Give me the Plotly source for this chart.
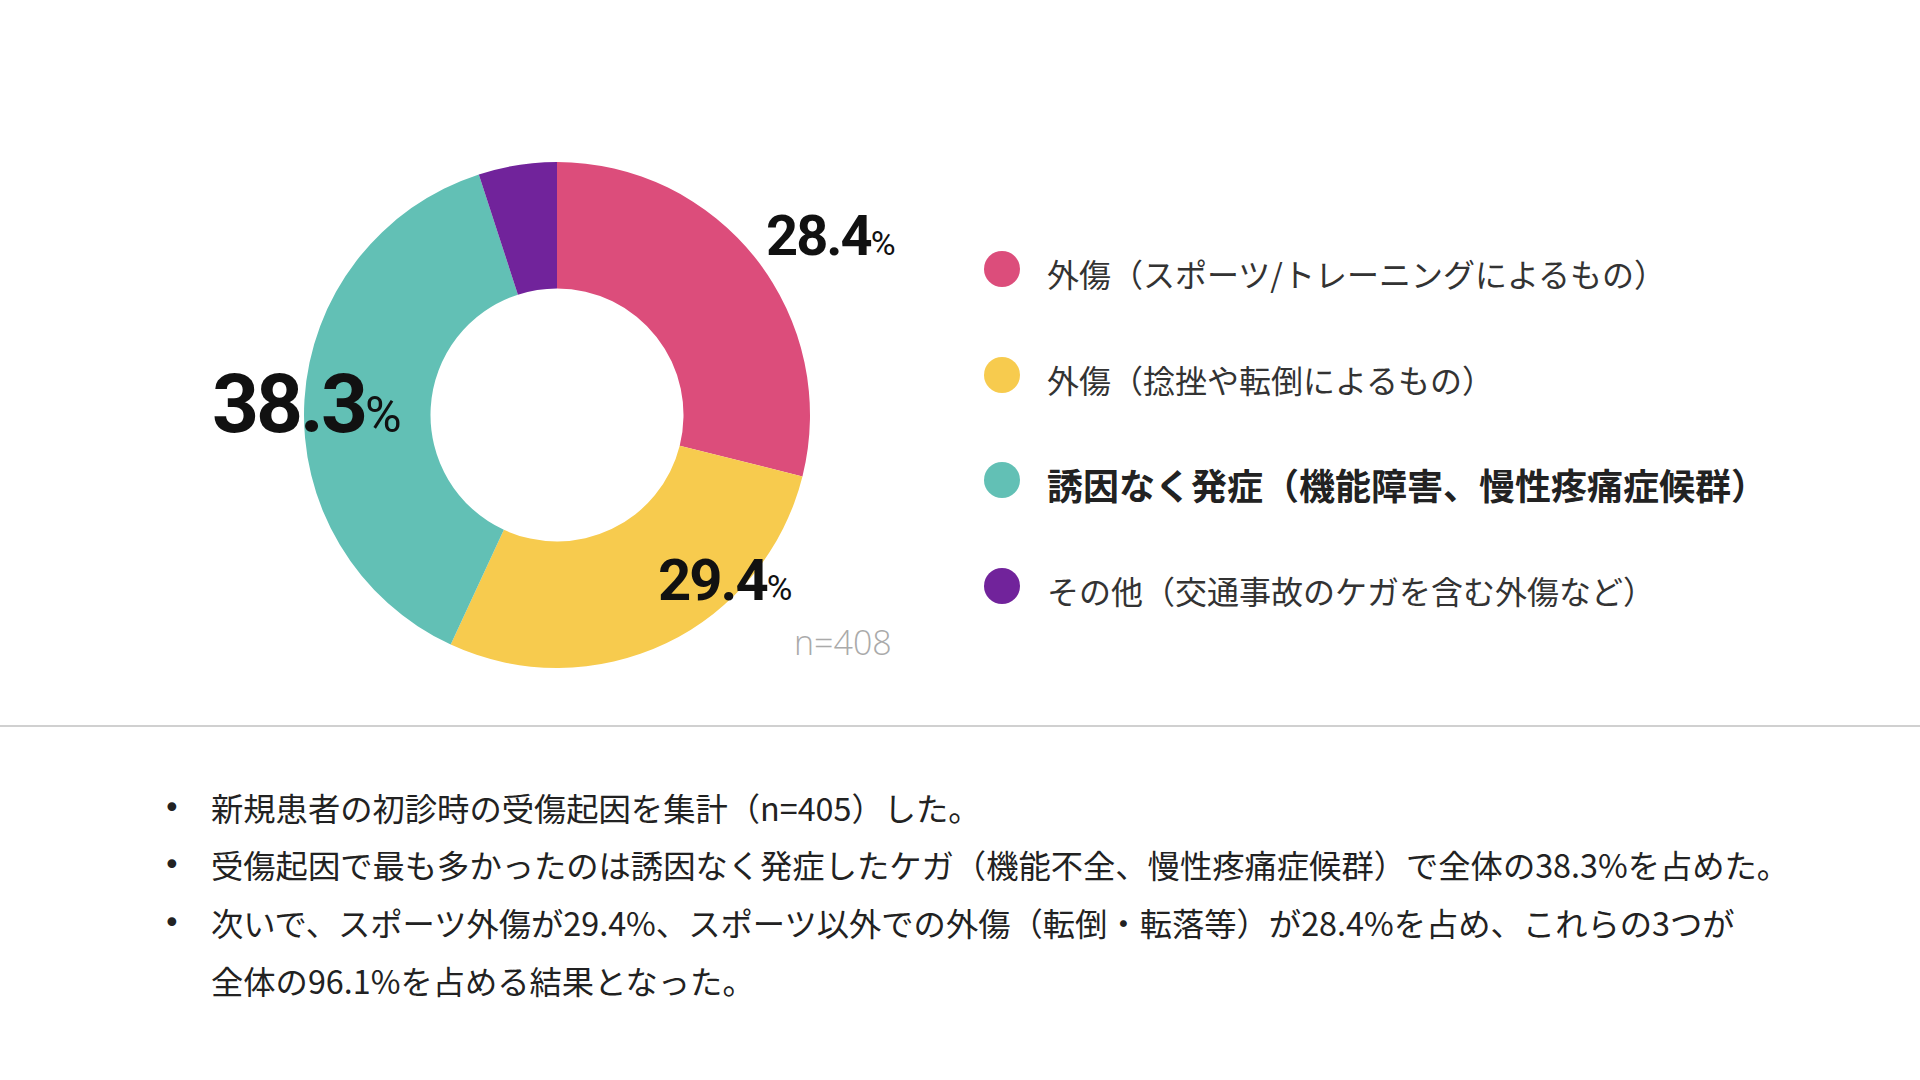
import plotly.graph_objects as go

# ---- data ----
categories = [
    "外傷（スポーツ/トレーニングによるもの）",
    "外傷（捻挫や転倒によるもの）",
    "誘因なく発症（機能障害、慢性疼痛症候群）",
    "その他（交通事故のケガを含む外傷など）",
]
# slice sizes as drawn in the picture (measured from the arc angles)
slice_values = [28.9, 28.0, 38.1, 5.0]
# percentage labels as printed on the chart
label_values = ["28.4", "29.4", "38.3"]
colors = ["#DC4D7B", "#F7CB4E", "#62C0B5", "#71239B"]
sample_label = "n=408"
notes = [
    "新規患者の初診時の受傷起因を集計（n=405）した。",
    "受傷起因で最も多かったのは誘因なく発症したケガ（機能不全、慢性疼痛症候群）で全体の38.3%を占めた。",
    "次いで、スポーツ外傷が29.4%、スポーツ以外での外傷（転倒・転落等）が28.4%を占め、これらの3つが",
    "全体の96.1%を占める結果となった。",
]

W, H = 1920, 1080
def px(x):
    return x / W
def py(y):
    return 1 - y / H

CJK = "Noto Sans CJK JP, Noto Sans, sans-serif"
NUM = "Roboto, DejaVu Sans, sans-serif"

cx, cy, r = 557, 415, 253
fig = go.Figure(go.Pie(
    labels=categories, values=slice_values, sort=False, direction="clockwise",
    rotation=0, hole=0.5, textinfo="none", hoverinfo="label",
    marker=dict(colors=colors, line=dict(width=0)),
    domain=dict(x=[px(cx - r), px(cx + r)], y=[py(cy + r), py(cy - r)]),
    showlegend=False,
))

annotations = []
shapes = []

# percentage labels (for the three main slices): x, y, font size, % size, letter spacing
label_pos = {0: (764, 236, 56, 34, -2), 1: (656, 580, 58, 35, -2), 2: (210, 404, 82, 50, -3)}
for i, (x, y, fs, pfs, ls) in label_pos.items():
    annotations.append(dict(
        x=px(x), y=py(y), xref="paper", yref="paper", xanchor="left", yanchor="middle",
        text=(f"<span style='letter-spacing:{ls}px'><b>{label_values[i]}</b></span>"
              f"<span style='font-size:{pfs}px'>%</span>"),
        showarrow=False, font=dict(family=NUM, size=fs, color="#111111"),
    ))

annotations.append(dict(
    x=px(792), y=py(642), xref="paper", yref="paper", xanchor="left", yanchor="middle",
    text=sample_label, showarrow=False,
    font=dict(family="Open Sans, Lato, sans-serif", size=34, color="#AAAAAA", weight=300),
))

# custom legend
leg_y = [269, 375, 480, 586]
for i, cat in enumerate(categories):
    y = leg_y[i]
    shapes.append(dict(type="circle", xref="paper", yref="paper",
                       x0=px(1002 - 18), x1=px(1002 + 18), y0=py(y + 18), y1=py(y - 18),
                       fillcolor=colors[i], line=dict(width=0)))
    bold = i == 2
    annotations.append(dict(
        x=px(1045), y=py(y + 4), xref="paper", yref="paper", xanchor="left", yanchor="middle",
        text=f"<b>{cat}</b>" if bold else cat, showarrow=False,
        font=dict(family=CJK, size=36 if bold else 32, color="#222222" if bold else "#333333"),
    ))

# divider line
shapes.append(dict(type="line", xref="paper", yref="paper", x0=0, x1=1, y0=py(726), y1=py(726),
                   line=dict(color="#D0D0D0", width=2)))

# bullet notes
note_y = [807, 864, 922, 980]
for i, t in enumerate(notes):
    y = note_y[i]
    if i < 3:
        annotations.append(dict(
            x=px(172), y=py(y), xref="paper", yref="paper", xanchor="center", yanchor="middle",
            text="•", showarrow=False, font=dict(family="DejaVu Sans, sans-serif", size=30, color="#222222"),
        ))
    annotations.append(dict(
        x=px(209), y=py(y), xref="paper", yref="paper", xanchor="left", yanchor="middle",
        text=t, showarrow=False, font=dict(family=CJK, size=32.3, color="#222222"),
    ))

fig.update_layout(
    width=W, height=H, margin=dict(l=0, r=0, t=0, b=0),
    paper_bgcolor="white", plot_bgcolor="white",
    annotations=annotations, shapes=shapes,
)
fig.write_html("out.html")
